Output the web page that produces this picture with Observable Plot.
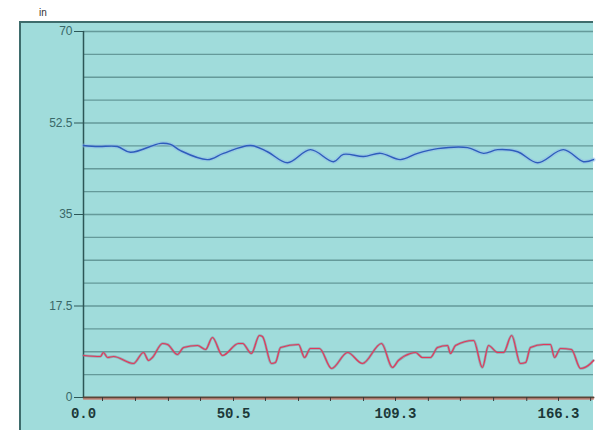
<!DOCTYPE html>
<html><head><meta charset="utf-8">
<script src="https://cdn.jsdelivr.net/npm/d3@7"></script>
<script src="https://cdn.jsdelivr.net/npm/@observablehq/plot@0.6"></script>
<style>body{margin:0;background:#fff}#chart svg{display:block}</style>
</head><body><div id="chart"></div>
<script>
// x axis break values (time) and tick labels
const xLabelValues = [0, 50.5, 109.3, 166.3];
const xLabels = ["0.0", "50.5", "109.3", "166.3"];
const xMinorTicks = [6.4, 17.5, 28.6, 39.4, 50.5, 62.1, 74.1, 85.7, 97.7, 109.3, 120.8, 132.0, 143.6, 155.2, 166.3, 177.5];
const xEnd = 178.5;
// y axis
const yLabelValues = [0, 17.5, 35, 52.5, 70];
const yLabels = ["0", "17.5", "35", "52.5", "70"];
const yGrid = [4.375, 8.75, 13.125, 17.5, 21.875, 26.25, 30.625, 35, 39.375, 43.75, 48.125, 52.5, 56.875, 61.25, 65.625, 70];
const unitLabel = "in";

// blue series
const blueT = [0, 5, 11.4, 15.8, 25.9, 29.3, 32.7, 41.8, 47.1, 56.7, 62.8, 70.1, 78.4, 86.8, 90.4, 97.7, 103.9, 111.0, 117.0, 124.0, 134.5, 140.1, 145.0, 152.0, 159.0, 168.0, 175.0, 178.5];
const blueV = [48.2, 48.0, 48.0, 46.9, 48.6, 48.4, 47.2, 45.5, 46.7, 48.2, 47.0, 44.9, 47.4, 45.1, 46.5, 46.1, 46.7, 45.5, 46.7, 47.6, 47.8, 46.7, 47.4, 47.0, 44.9, 47.4, 45.1, 45.5];

// red series
const redT = [0, 5.7, 6.7, 8.1, 10.1, 16.8, 20.2, 21.9, 23.2, 26.6, 28.3, 31.6, 33.7, 38.4, 41.1, 43.4, 46.8, 52.3, 53.8, 57.0, 59.9, 61.0, 64.3, 65.7, 67.6, 74.1, 76.3, 78.4, 81.7, 86.1, 91.9, 97.3, 104.2, 108.2, 110.3, 114.5, 116.3, 118.7, 121.5, 124.0, 127.5, 128.5, 130.3, 136.6, 139.7, 141.8, 145.0, 147.1, 149.9, 153.0, 154.8, 156.5, 161.1, 163.5, 164.9, 167.0, 170.8, 174.0, 177.5, 178.5];
const redV = [8.03, 7.84, 8.61, 7.65, 7.84, 6.50, 8.61, 7.08, 7.65, 10.33, 10.14, 8.22, 9.56, 9.95, 9.18, 11.48, 8.03, 10.33, 10.33, 8.42, 11.86, 11.67, 6.50, 6.69, 9.56, 10.14, 7.65, 9.37, 9.37, 5.55, 8.61, 6.50, 10.33, 5.74, 7.08, 8.42, 8.61, 7.65, 7.65, 9.56, 9.95, 8.42, 9.95, 10.90, 5.74, 9.95, 8.61, 8.61, 11.86, 6.50, 6.69, 9.56, 10.14, 10.14, 7.65, 9.37, 9.18, 5.55, 6.50, 7.08];

// zero series
const zeroT = [0, 178.5];
const zeroV = [0, 0];

const blue = blueT.map((t, i) => ({t, v: blueV[i]}));
const red = redT.map((t, i) => ({t, v: redV[i]}));
const zero = zeroT.map((t, i) => ({t, v: zeroV[i]}));

const chart = Plot.plot({
  width: 599,
  height: 430,
  marginLeft: 83,
  marginTop: 31,
  marginBottom: 33,
  marginRight: 6,
  style: {background: "transparent", fontFamily: "Liberation Sans, Arial, sans-serif"},
  x: {type: "linear", domain: [...xLabelValues, xEnd], range: [83, 233, 395, 558, 593]},
  y: {domain: [0, 70]},
  marks: [
    Plot.ruleY(yGrid, {stroke: "#5a8e8e", strokeWidth: 1.3, strokeOpacity: 0.85}),
    Plot.ruleX([0], {y1: 0, y2: 70, stroke: "#2c5656", strokeWidth: 1.5}),
    Plot.line(blue, {x: "t", y: "v", stroke: "#8cb8ea", strokeWidth: 4, strokeOpacity: 0.5, curve: "catmull-rom"}),
    Plot.line(blue, {x: "t", y: "v", stroke: "#2e5cbc", strokeWidth: 1.4, curve: "catmull-rom"}),
    Plot.line(red, {x: "t", y: "v", stroke: "#8a8292", strokeWidth: 2.6, strokeOpacity: 0.6, curve: "monotone-x"}),
    Plot.line(red, {x: "t", y: "v", stroke: "#e2385a", strokeWidth: 1.2, curve: "monotone-x"}),
    Plot.line(zero, {x: "t", y: "v", stroke: "#5a4638", strokeWidth: 2}),
    Plot.line(zero, {x: "t", y: "v", stroke: "#d65a4a", strokeWidth: 1, dy: 1.5}),
    Plot.axisY({ticks: yLabelValues, tickFormat: (d, i) => yLabels[i], tickSize: 9, tickPadding: 2, stroke: "#2c5656", fill: "#3a6868", fontSize: 12, label: null}),
    Plot.axisX({ticks: xMinorTicks, tickFormat: null, text: null, tickSize: 4, stroke: "#3a3a3a", label: null}),
    Plot.axisX({ticks: xLabelValues, tickFormat: (d, i) => xLabels[i], tickSize: 0, tickPadding: 11, fill: "#1c3838", fontSize: 14, fontWeight: "bold", fontFamily: "Liberation Mono, DejaVu Sans Mono, monospace", label: null})
  ]
});

const svg = d3.select(chart);
svg.insert("path", ":first-child")
  .attr("d", "M20,432V22H593").attr("fill", "none").attr("stroke", "#3e6c6c").attr("stroke-width", 2);
svg.insert("rect", ":first-child")
  .attr("x", 20).attr("y", 22).attr("width", 573).attr("height", 420).attr("fill", "#a0dcdb");
svg.insert("rect", ":first-child")
  .attr("x", 0).attr("y", 0).attr("width", 599).attr("height", 430).attr("fill", "#fff");
svg.append("text")
  .attr("x", 43).attr("y", 16)
  .attr("font-size", 10).attr("font-family", "Liberation Sans, Arial, sans-serif")
  .style("fill", "#333333")
  .text(unitLabel);
document.getElementById("chart").append(chart);
</script>
</body></html>
